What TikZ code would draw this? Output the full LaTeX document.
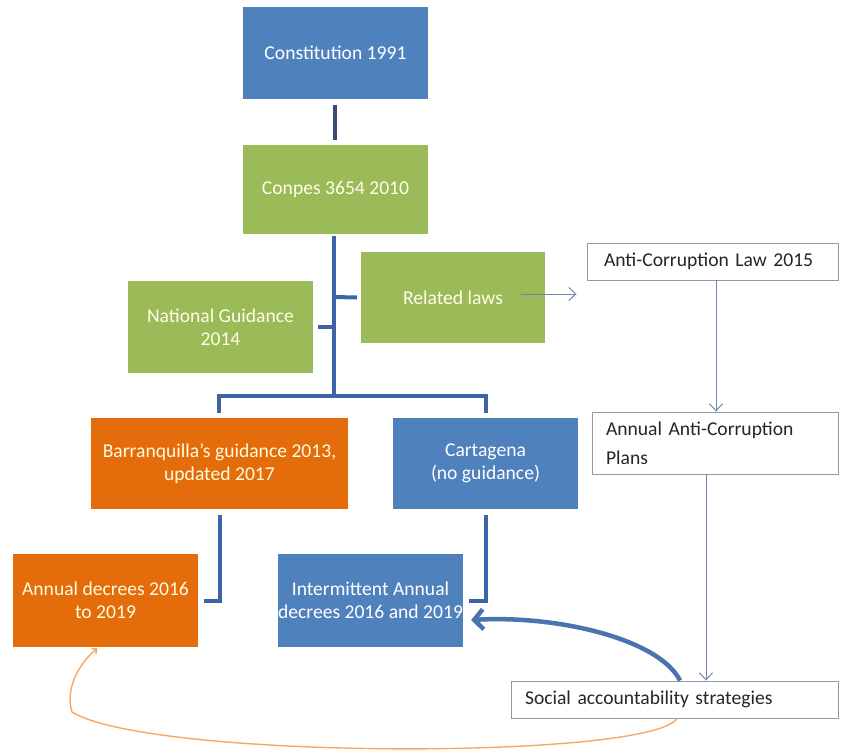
\documentclass[tikz,border=0pt]{standalone}
\usepackage{fontspec}
\setmainfont{Carlito}
\usetikzlibrary{arrows.meta,calc}
\definecolor{cblue}{HTML}{4F81BD}
\definecolor{cgreen}{HTML}{9BBB59}
\definecolor{corange}{HTML}{E46C0A}
\definecolor{cline}{HTML}{3D64A6}
\definecolor{cdark}{HTML}{3B4B72}
\definecolor{cthin}{HTML}{6F87A8}
\definecolor{cborder}{HTML}{8C9AAC}
\definecolor{ccurve}{HTML}{F3A867}
\definecolor{ctext}{HTML}{262626}
\definecolor{cthick}{HTML}{4A74B0}
\begin{document}
\begin{tikzpicture}[x=1pt,y=-1pt,
  box/.style={minimum width=185pt, minimum height=92pt, inner sep=0pt, text=white,
    font=\fontsize{19.6}{23}\selectfont, align=center},
  bluebox/.style={box, fill=cblue},
  greenbox/.style={box, fill=cgreen, text=white!90!yellow},
  orangebox/.style={box, fill=corange, text=white!88!yellow},
  wbox/.style={draw=cborder, line width=0.9pt, fill=white, text=ctext, inner ysep=0pt,
    font=\fontsize{19.6}{32}\selectfont, align=left},
  trunk/.style={draw=cline, line width=4pt},
  darkline/.style={draw=cdark, line width=4.5pt},
  thinarrow/.style={draw=cthin, line width=1pt, -{Straight Barb[length=7pt,width=13pt]}},
]
\useasboundingbox (0,0) rectangle (841,753);

% boxes
\node[bluebox] (const) at (335.5,53) {Constitution 1991};
\node[greenbox, minimum height=89pt] (conpes) at (335.5,189.5) {Conpes 3654 2010};
\node[greenbox, minimum width=184pt, minimum height=91pt] (related) at (453,297.5) {Related laws};
\node[greenbox] (natg) at (220.5,327) {National Guidance\\2014};
\node[orangebox, minimum width=257pt, minimum height=91pt] (barr) at (219.5,463.5) {Barranquilla’s guidance 2013,\\updated 2017};
\node[bluebox, minimum height=91pt] (cart) at (485.5,463.5) {Cartagena\\(no guidance)};
\node[orangebox, minimum height=93pt] (annd) at (105.5,600.5) {Annual decrees 2016\\to 2019};
\node[bluebox, minimum height=93pt] (inter) at (370.5,600.5) {Intermittent Annual\\decrees 2016 and 2019};

\node[wbox, minimum width=251pt, minimum height=37pt, text width=217pt, inner xsep=17pt] (acl) at (712.5,261.5) {Anti-Corruption Law 2015};
\node[wbox, minimum width=246pt, minimum height=62pt, text width=218pt, inner xsep=14pt] (aap) at (715,443) {\raisebox{-3pt}{Annual Anti-Corruption}\\Plans};
\node[wbox, minimum width=327pt, minimum height=37pt, text width=299pt, inner xsep=14pt] (soc) at (674.5,699.5) {Social accountability strategies};

% coordinates for the tree
\coordinate (trunktop) at (334,236);
\coordinate (trunkbot) at (334,396);
\coordinate (relj) at (334,297);
\coordinate (natj) at (334,327);
\coordinate (barl) at (219,396);
\coordinate (barr0) at (486,396);
\coordinate (annj) at (220,601);
\coordinate (intj) at (486,601);

% connectors
\draw[darkline] ($(const.south)+(-0.5,6)$) -- ($(conpes.north)+(-0.5,-5)$);
\draw[trunk] (trunktop) -- (trunkbot);
\draw[trunk] (relj) -- ($(related.west)+(-4,0)$);
\draw[trunk] (natj) -- ($(natg.east)+(5,0)$);
\draw[trunk] ($(barr.north)+(-0.5,-5)$) -- (barl) -- (barr0) -- ($(cart.north)+(0.5,-5)$);
\draw[trunk] ($(barr.south)+(0.5,6)$) -- (annj) -- ($(annd.east)+(6,0.5)$);
\draw[trunk] ($(cart.south)+(0.5,6)$) -- (intj) -- ($(inter.east)+(6,0.5)$);

\draw[thinarrow] ($(related.east)+(-24,-3.5)$) -- ($(acl.west)+(-10,32.5)$);
\draw[thinarrow] ($(acl.south)+(3.5,0)$) -- ($(aap.north)+(1,0)$);
\draw[thinarrow] ($(aap.south)+(-9,0)$) -- ($(soc.north)+(31.5,0)$);

% curved arrows
\draw[draw=cthick, line width=4.5pt, -{Straight Barb[length=9pt,width=20pt]}]
  ($(soc.north)+(5.5,0)$) .. controls (660,640) and (560,615) .. ($(inter.east)+(8,19.5)$);
\draw[draw=ccurve, line width=1.4pt, -{Straight Barb[length=4pt,width=7pt]}]
  ($(soc.south)+(2.5,0)$) .. controls (650,760) and (150,760) .. (72,712)
  .. controls (65,690) and (78,664) .. ($(annd.south)+(-8,1)$);
\end{tikzpicture}
\end{document}
